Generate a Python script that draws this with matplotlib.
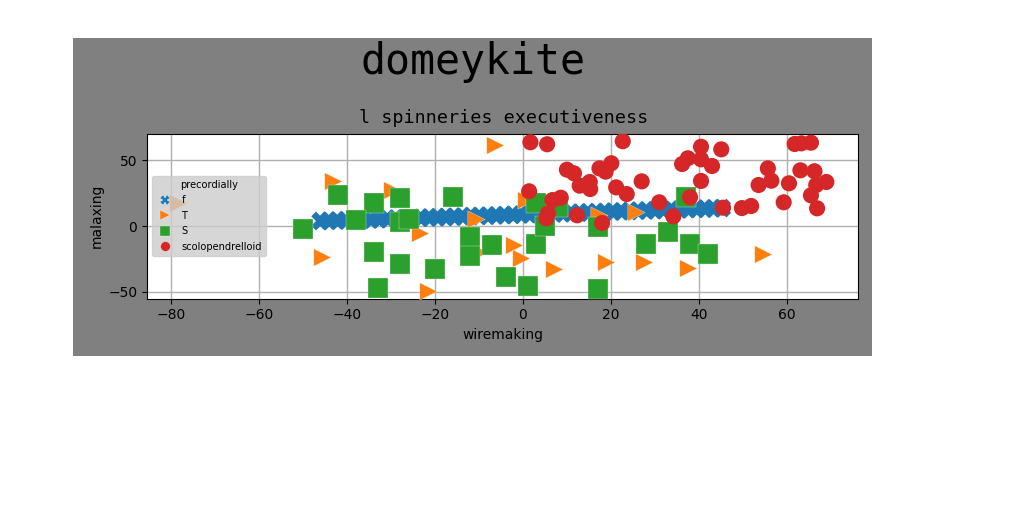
#!/usr/bin/env python
# -*- coding: utf-8 -*-
import matplotlib
matplotlib.use('Agg')
import matplotlib.pyplot as plt
from matplotlib.lines import Line2D
from matplotlib.patches import Rectangle

#======================================================================|
# Data

f_x = [-46.0, -44.1, -42.2, -40.3, -38.4, -36.5, -34.6, -32.7, -30.8, -28.9,
       -27.0, -25.1, -23.2, -21.3, -19.4, -17.5, -15.6, -13.7, -11.8, -9.9,
       -8.0, -6.1, -4.2, -2.3, -0.4, 1.5, 3.4, 5.3, 7.2, 9.1,
       11.0, 12.9, 14.8, 16.7, 18.6, 20.5, 22.4, 24.3, 26.2, 28.1,
       30.0, 31.9, 33.8, 35.7, 37.6, 39.5, 41.4, 43.3, 45.2]
f_y = [3.8, 4.0, 4.2, 4.4, 4.6, 4.8, 5.0, 5.2, 5.4, 5.7,
       5.9, 6.1, 6.3, 6.5, 6.7, 6.9, 7.1, 7.3, 7.5, 7.7,
       7.9, 8.1, 8.3, 8.6, 8.8, 9.0, 9.2, 9.4, 9.6, 9.8,
       10.0, 10.2, 10.4, 10.6, 10.8, 11.0, 11.2, 11.5, 11.7, 11.9,
       12.1, 12.3, 12.5, 12.7, 12.9, 13.1, 13.3, 13.5, 13.7]

t_x = [-6.3, -43.3, -29.7, -45.8, -23.3, -21.6, -10.6, -10.1, -2.1, -0.5,
       7.0, 0.8, 17.4, 18.8, 27.5, 37.5, 54.5, 25.6, -78.5]
t_y = [61.6, 34.6, 27.5, -23.4, -5.6, -49.6, 5.3, -19.6, -14.5, -24.7,
       -33.1, 19.8, 8.4, -27.3, -27.3, -32.3, -21.1, 10.9, 17.8]

s_x = [-50.0, -42.1, -33.9, -28.0, -15.9, -37.9, -28.0, -25.9, -33.9, -28.0,
       -20.0, -33.0, -12.0, -12.0, -7.0, -3.9, 1.1, 3.0, 5.1, 3.0,
       7.9, 17.0, 17.0, 28.0, 33.0, 37.9, 42.1, 37.0]
s_y = [-2.1, 23.7, 17.3, 21.1, 21.9, 4.6, 3.1, 5.1, -20.1, -29.2,
       -33.1, -47.1, -8.6, -23.1, -14.7, -39.2, -46.0, -13.7, 0.0, 17.3,
       14.3, -1.0, -48.3, -14.0, -4.4, -14.0, -21.6, 21.9]

sc_x = [1.7, 5.5, 10.0, 11.6, 12.9, 15.2, 15.3, 1.4, 6.7, 8.6,
        5.7, 5.3, 12.3, 22.7, 40.5, 45.1, 37.5, 36.2, 40.5, 43.0,
        20.1, 17.4, 18.8, 27.0, 21.2, 23.6, 40.5, 38.0, 31.0, 34.2,
        45.5, 49.8, 51.9, 18.0, 53.6, 55.7, 56.5, 60.5, 59.3, 61.8,
        63.3, 65.5, 63.1, 66.3, 66.7, 69.0, 65.5, 66.9]
sc_y = [63.9, 62.4, 43.0, 40.2, 30.8, 33.6, 28.2, 26.5, 19.8, 21.6,
        9.7, 5.9, 8.2, 64.7, 60.5, 58.5, 51.7, 47.3, 50.9, 45.8,
        47.9, 44.0, 41.5, 34.1, 29.5, 24.4, 34.4, 21.9, 18.1, 7.4,
        14.0, 13.7, 15.3, 2.3, 31.3, 44.0, 34.6, 32.6, 18.1, 62.6,
        63.1, 63.6, 42.5, 41.8, 31.3, 33.6, 23.4, 13.5]

x_ticks = [-80, -60, -40, -20, 0, 20, 40, 60]
y_ticks = [-50, 0, 50]

#======================================================================|
# Plot

W, H = 1024., 512.
fig = plt.figure(figsize=(10.24, 5.12), dpi=100, facecolor='white')
# gray panel only covers part of the canvas
fig.add_artist(Rectangle((73/W, 1 - 356/H), 799/W, 318/H, transform=fig.transFigure,
                         facecolor='#808080', edgecolor='none', zorder=-1))

ax = fig.add_axes([147/W, 1 - 298.5/H, 711/W, 165/H])
ax.grid(True, color='#b0b0b0', lw=1.)
ax.set_axisbelow(True)

# only the squares keep a visible pale edge
edge = dict(edgecolors='#e8f0e8', linewidths=0.25)
ax.scatter(f_x, f_y, marker='X', s=185, c='C0', edgecolors='none', zorder=2)
ax.scatter(t_x, t_y, marker='>', s=155, c='C1', zorder=3, **edge)
ax.scatter(s_x, s_y, marker='s', s=190, c='C2', zorder=4, **edge)
ax.scatter(sc_x, sc_y, marker='o', s=135, c='C3', edgecolors='none', zorder=5)

ax.set_xlim(-85.5, 76.2)
ax.set_ylim(-55.3, 70.6)
ax.set_xticks(x_ticks)
ax.set_yticks(y_ticks)
ax.set_xlabel('wiremaking', fontsize=10, labelpad=4.5)
ax.set_ylabel('malaxing', fontsize=10, labelpad=3.5)

handles = [Line2D([], [], ls='none', marker=m, color=c, markeredgecolor='w',
                  markeredgewidth=0.2, markersize=7)
           for m, c in (('X', 'C0'), ('>', 'C1'), ('s', 'C2'), ('o', 'C3'))]
leg = ax.legend(handles, ['f', 'T', 'S', 'scolopendrelloid'], title='precordially',
                loc='lower left', bbox_to_anchor=(0.0066, 0.26), borderaxespad=0.,
                fontsize=7.1, title_fontsize=7.1, facecolor='#cccccc', edgecolor='#cccccc',
                framealpha=0.8, labelspacing=0.55, handletextpad=0.6, borderpad=0.4)
leg.set_zorder(6)

fig.text(473/W, 1 - 62/H, 'domeykite', family='DejaVu Sans Mono', fontsize=30,
         ha='center', va='center')
fig.text(503.5/W, 1 - 118/H, 'l spinneries executiveness', family='DejaVu Sans Mono',
         fontsize=13.2, ha='center', va='center')

fig.savefig('out.png', dpi=100)
